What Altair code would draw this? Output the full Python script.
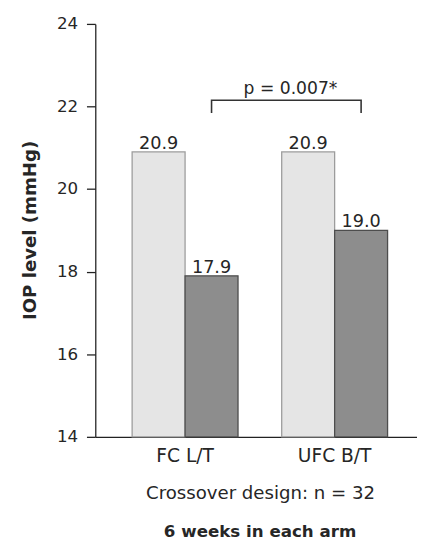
import altair as alt
import pandas as pd

# ---- data ----
groups = ["FC L/T", "FC L/T", "UFC B/T", "UFC B/T"]
phases = ["Baseline", "Treated", "Baseline", "Treated"]
iop = [20.9, 17.9, 20.9, 19.0]
axis_floor = 14

bracket_group = ["FC L/T", "FC L/T", "UFC B/T", "UFC B/T"]
bracket_phase = ["Treated", "Treated", "Treated", "Treated"]
bracket_y = [21.84, 22.15, 22.15, 21.84]
bracket_order = [0, 1, 2, 3]

p_group = ["UFC B/T"]
p_phase = ["Baseline"]
p_y = [22.3]
p_text = ["p = 0.007*"]

y_ticks = [14, 16, 18, 20, 22, 24]

df = pd.DataFrame({"group": groups, "phase": phases, "iop": iop})
br = pd.DataFrame({"group": bracket_group, "phase": bracket_phase,
                   "y": bracket_y, "i": bracket_order})
pt = pd.DataFrame({"group": p_group, "phase": p_phase, "y": p_y, "label": p_text})

FONT = "DejaVu Sans"
TXT = "#262626"
LINE = "#222222"
GSORT = ["FC L/T", "UFC B/T"]
PSORT = ["Baseline", "Treated"]

x_enc = alt.X(
    "group:N",
    sort=GSORT,
    scale=alt.Scale(paddingInner=0.292, paddingOuter=0.2215, align=0.556),
    axis=alt.Axis(
        title="Crossover design: n = 32",
        labelAngle=0, ticks=False, labelPadding=10, labelFontSize=19,
        labelColor=TXT, labelFont=FONT,
        titleFontSize=18.5, titleFontWeight="normal", titleColor=TXT, titleFont=FONT,
        titleX=168, titleY=57, titleBaseline="middle",
        domainColor=LINE, domainWidth=1.3,
    ),
)
xo_enc = alt.XOffset("phase:N", sort=PSORT,
                     scale=alt.Scale(paddingInner=0, paddingOuter=0))
y_scale = alt.Scale(domain=[14, 24], zero=False, nice=False)

bars = alt.Chart(df).mark_bar(strokeWidth=1.3).encode(
    x=x_enc,
    xOffset=xo_enc,
    y=alt.Y(
        "iop:Q",
        scale=y_scale,
        axis=alt.Axis(
            values=y_ticks, grid=False, tickSize=9, tickWidth=1.3,
            tickColor=LINE, domainColor=LINE, domainWidth=1.3,
            labelFontSize=17, labelPadding=9, labelColor=TXT, labelFont=FONT,
            title="IOP level (mmHg)", titleFontSize=18.5, titleFontWeight="bold",
            titleColor=TXT, titleFont=FONT,
            titleX=-67, titleY=210, titleBaseline="middle", titleAlign="center",
        ),
    ),
    y2=alt.datum(axis_floor),
    color=alt.Color("phase:N", sort=PSORT,
                    scale=alt.Scale(range=["#e5e5e5", "#8d8d8d"]), legend=None),
    stroke=alt.Stroke("phase:N", sort=PSORT,
                      scale=alt.Scale(range=["#9c9c9c", "#4d4d4d"]), legend=None),
)

labels = alt.Chart(df).mark_text(
    baseline="alphabetic", dy=-3, fontSize=18, font=FONT, color=TXT
).encode(
    x=alt.X("group:N", sort=GSORT),
    xOffset=alt.XOffset("phase:N", sort=PSORT),
    y=alt.Y("iop:Q", scale=y_scale),
    text=alt.Text("iop:Q", format=".1f"),
)

bracket = alt.Chart(br).mark_line(
    color="#333333", strokeWidth=1.6, xOffset=5
).encode(
    x=alt.X("group:N", sort=GSORT),
    xOffset=alt.XOffset("phase:N", sort=PSORT),
    y=alt.Y("y:Q", scale=y_scale),
    order="i:Q",
)

ptext = alt.Chart(pt).mark_text(
    fontSize=17.5, font=FONT, color=TXT, dx=-18, baseline="alphabetic"
).encode(
    x=alt.X("group:N", sort=GSORT),
    xOffset=alt.XOffset("phase:N", sort=PSORT),
    y=alt.Y("y:Q", scale=y_scale),
    text="label:N",
)

chart = alt.layer(bars, labels, bracket, ptext).properties(
    width=328,
    height=421,
    autosize=alt.AutoSizeParams(type="none"),
    padding={"left": 89, "top": 11, "right": 0, "bottom": 103},
    title=alt.TitleParams(
        "6 weeks in each arm", orient="bottom", anchor="middle",
        fontSize=17, fontWeight="bold", font=FONT, color=TXT, offset=23, dx=4,
    ),
).configure_view(stroke=None)

chart.save("out.html", embed_options={"renderer": "svg", "actions": False})
